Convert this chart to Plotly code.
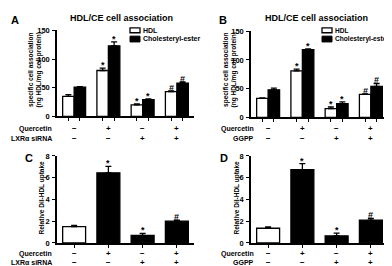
import plotly.graph_objects as go

W, H = 392, 266
groups = [0, 1, 2, 3]
quercetin_signs = ["−", "+", "−", "+"]
second_signs = ["−", "−", "+", "+"]

# Panel A (LXRα siRNA)
a_hdl = [35, 80, 20, 43]
a_hdl_err = [3, 4, 1.5, 1.5]
a_ce = [51, 123, 29, 58]
a_ce_err = [1, 7, 1.5, 2]
a_hdl_marks = ["", "*", "*", "#"]
a_ce_marks = ["", "*", "*", "#"]

# Panel B (GGPP)
b_hdl = [33, 81, 15, 40]
b_hdl_err = [1, 3, 3, 1]
b_ce = [48, 118, 24, 54]
b_ce_err = [3, 1.5, 3, 5]
b_hdl_marks = ["", "*", "*", "#"]
b_ce_marks = ["", "*", "*", "#"]

# Panel C (LXRα siRNA) DiI-HDL uptake
c_vals = [1.5, 6.45, 0.7, 2.0]
c_err = [0.1, 0.6, 0.17, 0.1]
c_marks = ["", "*", "*", "#"]

# Panel D (GGPP) DiI-HDL uptake
d_vals = [1.35, 6.75, 0.65, 2.1]
d_err = [0.12, 0.55, 0.25, 0.15]
d_marks = ["", "*", "*", "#"]

FONT = "Liberation Sans, Arial, sans-serif"
BAR_COLORS_CD = ["white", "black", "black", "black"]

def px(x):
    return x / W

def py(y):
    return 1 - y / H

fig = go.Figure()

def err(arr):
    return dict(type="data", array=arr, arrayminus=[0] * len(arr), symmetric=False,
                color="black", thickness=1.3, width=3)

# A
fig.add_trace(go.Bar(x=groups, y=a_hdl, error_y=err(a_hdl_err), name="HDL",
                     marker=dict(color="white", line=dict(color="black", width=1.3)),
                     xaxis="x", yaxis="y", showlegend=False))
fig.add_trace(go.Bar(x=groups, y=a_ce, error_y=err(a_ce_err), name="Cholesteryl-ester",
                     marker=dict(color="black", line=dict(color="black", width=1.3)),
                     xaxis="x", yaxis="y", showlegend=False))
# B
fig.add_trace(go.Bar(x=groups, y=b_hdl, error_y=err(b_hdl_err), name="HDL",
                     marker=dict(color="white", line=dict(color="black", width=1.3)),
                     xaxis="x2", yaxis="y2", showlegend=False))
fig.add_trace(go.Bar(x=groups, y=b_ce, error_y=err(b_ce_err), name="Cholesteryl-ester",
                     marker=dict(color="black", line=dict(color="black", width=1.3)),
                     xaxis="x2", yaxis="y2", showlegend=False))
# C
fig.add_trace(go.Bar(x=groups, y=c_vals, error_y=err(c_err),
                     marker=dict(color=BAR_COLORS_CD, line=dict(color="black", width=1.3)),
                     xaxis="x3", yaxis="y3", showlegend=False))
# D
fig.add_trace(go.Bar(x=groups, y=d_vals, error_y=err(d_err),
                     marker=dict(color=BAR_COLORS_CD, line=dict(color="black", width=1.3)),
                     xaxis="x4", yaxis="y4", showlegend=False))

OFF = 0.1675
pair_ticks = []
for g in groups:
    pair_ticks += [g - OFF, g + OFF]

def xax(domain, anchor, tickvals):
    return dict(domain=domain, anchor=anchor, range=[-0.5, 3.5], tickvals=tickvals,
                ticktext=[""] * len(tickvals), ticks="outside", ticklen=3, tickwidth=1,
                tickcolor="black", showline=True, linecolor="black", linewidth=1.5,
                showgrid=False, zeroline=False, fixedrange=True)

def yax(domain, anchor, rng, tickvals):
    return dict(domain=domain, anchor=anchor, range=rng, tickvals=tickvals,
                ticks="outside", ticklen=3, tickwidth=1, tickcolor="black",
                showline=True, linecolor="black", linewidth=1.5, showgrid=False,
                zeroline=False, tickfont=dict(family=FONT, size=7.5, color="black", weight="bold"),
                ticklabelstandoff=1, fixedrange=True)

xA = [px(49), px(186)]
xB = [px(243), px(380)]
yTop = [py(108), py(19)]
yTopB = [py(109), py(20)]
yBot = [py(239), py(149)]

fig.update_layout(
    width=W, height=H, margin=dict(l=0, r=0, t=0, b=0),
    paper_bgcolor="white", plot_bgcolor="white",
    barmode="group", bargap=0.33, bargroupgap=0,
    font=dict(family=FONT, color="black"),
    xaxis=xax(xA, "y", pair_ticks), yaxis=yax(yTop, "x", [0, 150], [0, 50, 100, 150]),
    xaxis2=xax(xB, "y2", pair_ticks), yaxis2=yax(yTopB, "x2", [0, 150], [0, 50, 100, 150]),
    xaxis3=xax(xA, "y3", groups), yaxis3=yax(yBot, "x3", [0, 8], [0, 2, 4, 6, 8]),
    xaxis4=xax(xB, "y4", groups), yaxis4=yax(yBot, "x4", [0, 8], [0, 2, 4, 6, 8]),
)

anns = []
def txt(x, y, text, size, xanchor="center", yanchor="middle", xref="paper", yref="paper",
        angle=0, yshift=0):
    anns.append(dict(x=x, y=y, text=text, xref=xref, yref=yref, showarrow=False,
                     xanchor=xanchor, yanchor=yanchor, textangle=angle, yshift=yshift,
                     borderpad=0,
                     font=dict(family=FONT, size=size, color="black", weight="bold")))

# panel letters & titles
txt(px(7), py(8), "A", 11)
txt(px(215), py(8), "B", 11)
txt(px(21), py(151), "C", 11)
txt(px(216), py(151), "D", 11)
txt(px(113), py(6), "HDL/CE cell association", 9)
txt(px(308), py(6), "HDL/CE cell association", 9)

# y titles
txt(px(26.5), py(60), "specific cell association<br>(ng HDL/mg cell protein)", 6.5, angle=-90)
txt(px(221.5), py(60), "specific cell association<br>(ng HDL/mg cell protein)", 6.5, angle=-90)
txt(px(34), py(192), "Relative DiI-HDL uptake", 6.5, angle=-90)
txt(px(229), py(192), "Relative DiI-HDL uptake", 6.5, angle=-90)

# significance marks
def marks(xref, yref, vals, errs, labels, off):
    for g, v, e, m in zip(groups, vals, errs, labels):
        if m:
            txt(g + off, v + e, m, 9, yanchor="bottom", xref=xref, yref=yref, yshift=-3)

marks("x", "y", a_hdl, a_hdl_err, a_hdl_marks, -OFF)
marks("x", "y", a_ce, a_ce_err, a_ce_marks, OFF)
marks("x2", "y2", b_hdl, b_hdl_err, b_hdl_marks, -OFF)
marks("x2", "y2", b_ce, b_ce_err, b_ce_marks, OFF)
marks("x3", "y3", c_vals, c_err, c_marks, 0)
marks("x4", "y4", d_vals, d_err, d_marks, 0)

# treatment rows
def rows(xref, lab_x, y1, y2, second_label):
    txt(px(lab_x), py(y1), "Quercetin", 7, xanchor="right")
    txt(px(lab_x), py(y2), second_label, 7, xanchor="right")
    for g, s1, s2 in zip(groups, quercetin_signs, second_signs):
        txt(g, py(y1), s1, 8, xref=xref)
        txt(g, py(y2), s2, 8, xref=xref)

rows("x", 45, 121, 131, "LXRα siRNA")
rows("x2", 247, 121, 131, "GGPP")
rows("x3", 45, 250, 259.5, "LXRα siRNA")
rows("x4", 247, 250, 259.5, "GGPP")

# legends (swatches + labels)
shapes = []
def legend(x0, label_x, size):
    shapes.append(dict(type="rect", xref="paper", yref="paper", x0=px(x0), x1=px(x0 + 10),
                       y0=py(21.5), y1=py(16.5), fillcolor="white",
                       line=dict(color="black", width=1.3)))
    shapes.append(dict(type="rect", xref="paper", yref="paper", x0=px(x0), x1=px(x0 + 10),
                       y0=py(31), y1=py(25), fillcolor="black",
                       line=dict(color="black", width=1)))
    txt(px(label_x), py(19), "HDL", size, xanchor="left")
    txt(px(label_x), py(28), "Cholesteryl-ester", size, xanchor="left")

legend(122, 134, 7)
legend(314, 326, 6.6)

fig.update_layout(annotations=anns, shapes=shapes)
fig.write_html("out.html")
